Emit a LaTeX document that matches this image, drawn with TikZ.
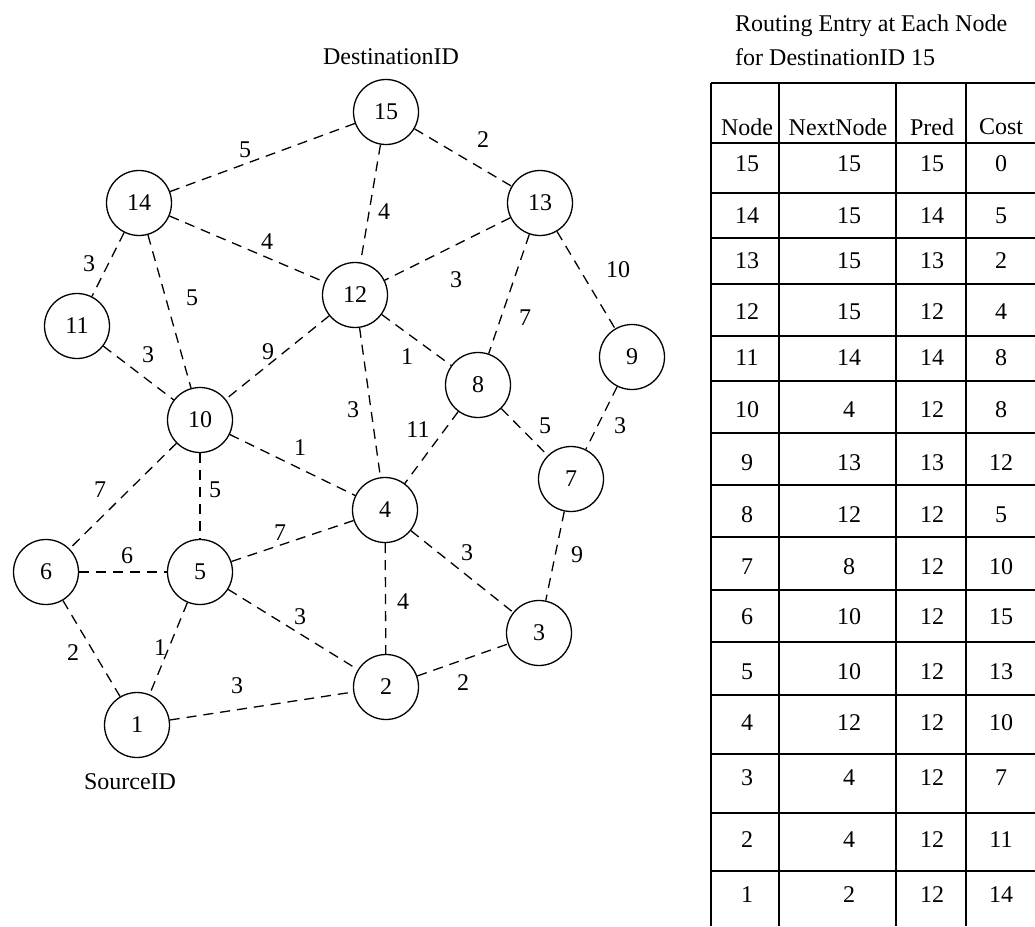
\documentclass[tikz,border=0pt]{standalone}
\usepackage{fontspec}
\setmainfont{Liberation Serif}
\begin{document}
\begin{tikzpicture}[x=1pt,y=-1pt,
  txt/.style={font=\fontsize{24}{28}\selectfont, inner sep=0pt},
  vertex/.style={circle, draw, line width=1.3pt, minimum size=65pt, inner sep=0pt, font=\fontsize{24}{28}\selectfont},
  link/.style={line width=1.3pt, dash pattern=on 10pt off 7pt},
  wt/.style={txt},
  grid/.style={line width=1.4pt}]
\useasboundingbox (0,0) rectangle (1035,926);

% network nodes
\node[vertex] (n15) at (386,112) {15};
\node[vertex] (n14) at (139,203) {14};
\node[vertex] (n13) at (540,203) {13};
\node[vertex] (n12) at (355,295) {12};
\node[vertex] (n11) at (77,326)  {11};
\node[vertex] (n9)  at (632,357) {9};
\node[vertex] (n8)  at (478,385) {8};
\node[vertex] (n10) at (200,420) {10};
\node[vertex] (n7)  at (571,479) {7};
\node[vertex] (n4)  at (385,510) {4};
\node[vertex] (n6)  at (46,572)  {6};
\node[vertex] (n5)  at (200,572) {5};
\node[vertex] (n3)  at (539,633) {3};
\node[vertex] (n2)  at (386,687) {2};
\node[vertex] (n1)  at (137,725) {1};

\node[txt] (dst) at (391,57) {DestinationID};
\node[txt] (src) at (130,782) {SourceID};

% links
\draw[link] (n15) -- (n14);
\draw[link] (n15) -- (n13);
\draw[link] (n15) -- (n12);
\draw[link] (n14) -- (n12);
\draw[link] (n14) -- (n11);
\draw[link] (n14) -- (n10);
\draw[link] (n11) -- (n10);
\draw[link] (n12) -- (n10);
\draw[link] (n13) -- (n12);
\draw[link] (n13) -- (n8);
\draw[link] (n13) -- (n9);
\draw[link] (n12) -- (n8);
\draw[link] (n12) -- (n4);
\draw[link] (n8) -- (n4);
\draw[link] (n8) -- (n7);
\draw[link] (n9) -- (n7);
\draw[link] (n10) -- (n4);
\draw[link] (n10) -- (n6);
\draw[link] (n10) -- (n5);
\draw[link] (n6) -- (n5);
\draw[link] (n5) -- (n4);
\draw[link] (n5) -- (n2);
\draw[link] (n6) -- (n1);
\draw[link] (n5) -- (n1);
\draw[link] (n1) -- (n2);
\draw[link] (n4) -- (n2);
\draw[link] (n4) -- (n3);
\draw[link] (n7) -- (n3);
\draw[link] (n2) -- (n3);

% link costs
\node[wt] (w15-14) at (245,150) {5};
\node[wt] (w15-13) at (483,140) {2};
\node[wt] (w15-12) at (384,212) {4};
\node[wt] (w14-12) at (267,242) {4};
\node[wt] (w14-11) at (89,264)  {3};
\node[wt] (w14-10) at (192,298) {5};
\node[wt] (w11-10) at (148,355) {3};
\node[wt] (w12-10) at (268,352) {9};
\node[wt] (w13-12) at (456,280) {3};
\node[wt] (w13-8)  at (525,318) {7};
\node[wt] (w13-9)  at (618,270) {10};
\node[wt] (w12-8)  at (407,357) {1};
\node[wt] (w12-4)  at (353,410) {3};
\node[wt] (w8-4)   at (418,430) {11};
\node[wt] (w8-7)   at (545,426) {5};
\node[wt] (w9-7)   at (620,426) {3};
\node[wt] (w10-4)  at (300,448) {1};
\node[wt] (w10-6)  at (100,490) {7};
\node[wt] (w10-5)  at (215,490) {5};
\node[wt] (w6-5)   at (127,556) {6};
\node[wt] (w5-4)   at (280,533) {7};
\node[wt] (w5-2)   at (300,617) {3};
\node[wt] (w6-1)   at (73,653)  {2};
\node[wt] (w5-1)   at (160,648) {1};
\node[wt] (w1-2)   at (237,686) {3};
\node[wt] (w4-2)   at (403,602) {4};
\node[wt] (w4-3)   at (467,553) {3};
\node[wt] (w7-3)   at (577,555) {9};
\node[wt] (w2-3)   at (463,683) {2};

% routing table
\node[txt, anchor=base west] (t1) at (735,31) {Routing Entry at Each Node};
\node[txt, anchor=base west] (t2) at (735,65) {for DestinationID 15};

\foreach \xx in {711,779,896,966} \draw[grid] (\xx,83) -- (\xx,926);
\foreach \yy in {83,143,193,238,284,336,381,433,485,537,590,642,695,754,813,871}
  \draw[grid] (711,\yy) -- (1035,\yy);

\node[txt] (hNode) at (747,127) {Node};
\node[txt] (hNext) at (838,127) {NextNode};
\node[txt] (hPred) at (932,127) {Pred};
\node[txt] (hCost) at (1001,127) {Cost};

\foreach \yy/\a/\b/\c/\d in {164/15/15/15/0, 216/14/15/14/5, 261/13/15/13/2,
  312/12/15/12/4, 358/11/14/14/8, 410/10/4/12/8, 463/9/13/13/12,
  515/8/12/12/5, 567/7/8/12/10, 617/6/10/12/15, 672/5/10/12/13,
  723/4/12/12/10, 778/3/4/12/7, 840/2/4/12/11, 895/1/2/12/14} {
  \node[txt] at (747,\yy) {\a};
  \node[txt] at (849,\yy) {\b};
  \node[txt] at (932,\yy) {\c};
  \node[txt] at (1001,\yy) {\d};
}
\end{tikzpicture}
\end{document}
